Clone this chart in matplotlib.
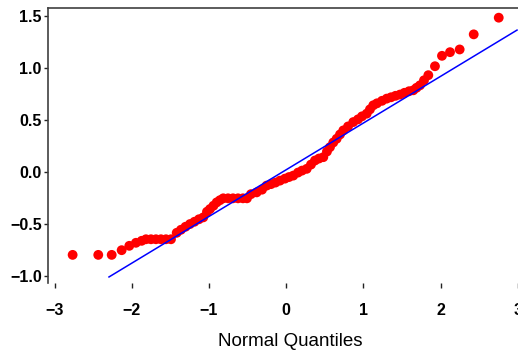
import matplotlib
matplotlib.use("Agg")
import matplotlib.pyplot as plt

# normal quantiles (x) and sample quantiles (y)
qx = [-2.766, -2.434, -2.260, -2.131, -2.032, -1.946, -1.872,
      -1.816, -1.751, -1.687, -1.622, -1.557, -1.492,
      -1.418, -1.363, -1.304, -1.246, -1.188, -1.130, -1.074, -1.026,
      -0.987, -0.942, -0.900, -0.858, -0.815,
      -0.753, -0.689, -0.624, -0.560, -0.508,
      -0.456, -0.382, -0.313, -0.253, -0.197, -0.139, -0.080, -0.016,
      0.036, 0.092, 0.153, 0.205, 0.266, 0.321, 0.373, 0.425, 0.481,
      0.528, 0.567, 0.610, 0.654, 0.697, 0.740, 0.801, 0.869, 0.930,
      0.982, 1.043, 1.085, 1.128, 1.176, 1.241, 1.302, 1.358, 1.416,
      1.474, 1.532, 1.591, 1.646, 1.688, 1.733, 1.785, 1.841, 1.927,
      2.018, 2.122, 2.247, 2.429, 2.753]
qy = [-0.795, -0.795, -0.795, -0.750, -0.708, -0.679, -0.660,
      -0.645, -0.645, -0.645, -0.645, -0.645, -0.645,
      -0.583, -0.554, -0.525, -0.499, -0.477, -0.453, -0.435, -0.381,
      -0.355, -0.323, -0.291, -0.270, -0.252,
      -0.252, -0.252, -0.252, -0.252, -0.252,
      -0.212, -0.195, -0.169, -0.130, -0.116, -0.101, -0.082, -0.063,
      -0.048, -0.034, -0.005, 0.014, 0.031, 0.072, 0.111, 0.130, 0.143,
      0.197, 0.239, 0.284, 0.320, 0.361, 0.400, 0.438, 0.480, 0.506,
      0.535, 0.561, 0.602, 0.641, 0.660, 0.684, 0.705, 0.718, 0.732,
      0.744, 0.761, 0.776, 0.785, 0.809, 0.833, 0.881, 0.930, 1.016,
      1.116, 1.151, 1.177, 1.322, 1.482]

# reference line
line_x = [-2.295, 2.99]
line_y = [-1.007, 1.363]

xticks = [-3, -2, -1, 0, 1, 2, 3]
yticks = [-1.0, -0.5, 0.0, 0.5, 1.0, 1.5]

plt.rcParams['font.family'] = ['Liberation Sans', 'DejaVu Sans']

fig = plt.figure(figsize=(5.18, 3.6), dpi=100)
ax = fig.add_axes([48/518, 77/360, 482/518, 275/360])

ax.scatter(qx, qy, s=50, color='#ff0000', edgecolors='none', zorder=2)
ax.plot(line_x, line_y, color='#0000ff', lw=1.1, zorder=3)

ax.set_xlim(-3.085, 3.158)
ax.set_ylim(-1.065, 1.575)
ax.set_xticks(xticks)
ax.set_yticks(yticks)
ax.set_yticklabels(['\u22121.0', '\u22120.5', '0.0', '0.5', '1.0', '1.5'])
ax.set_xticklabels(['\u22123', '\u22122', '\u22121', '0', '1', '2', '3'])

for s in ['right', 'bottom']:
    ax.spines[s].set_visible(False)
for s in ['left', 'top']:
    ax.spines[s].set_color('#404040')
    ax.spines[s].set_linewidth(1.2)

ax.tick_params(axis='y', direction='out', length=3, width=1, pad=1.5,
               labelsize=11.5, color='#222222')
ax.tick_params(axis='x', direction='out', length=3.6, width=1, pad=10.5,
               labelsize=11.5, color='#222222')
for lab in ax.get_xticklabels() + ax.get_yticklabels():
    lab.set_fontweight('bold')

ax.set_xlabel('Normal Quantiles', fontsize=13.5)
ax.xaxis.set_label_coords(0.502, -0.18)

fig.savefig('out.png', dpi=100)
